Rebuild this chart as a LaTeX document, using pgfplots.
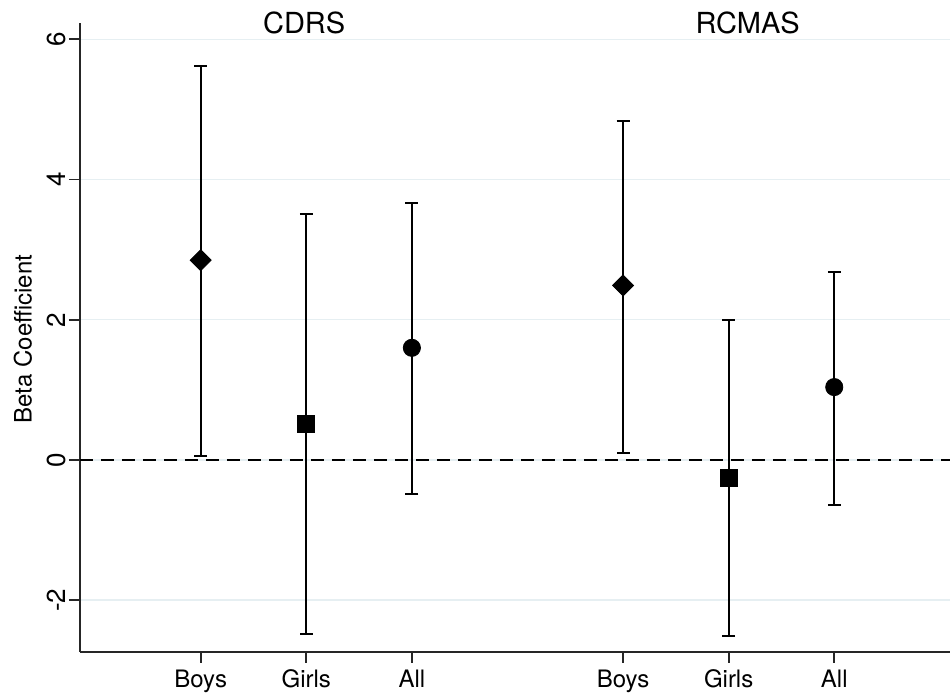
\documentclass[border=0pt]{standalone}
\usepackage{fontspec}
\setmainfont{TeX Gyre Heros}
\usepackage{pgfplots}
\pgfplotsset{compat=1.18}
\usepackage{pgfplotstable}
\definecolor{gridc}{HTML}{E6EFF2}

% x = position, y = coefficient, ep = upper CI - y, em = y - lower CI
\pgfplotstableread{
x y ep em
1 2.85 2.77 2.80
5 2.49 2.34 2.39
}\boys
\pgfplotstableread{
x y ep em
2 0.52 2.99 3.00
6 -0.25 2.25 2.26
}\girls
\pgfplotstableread{
x y ep em
3 1.60 2.07 2.09
7 1.04 1.64 1.68
}\all

\begin{document}
\begin{tikzpicture}
\begin{axis}[
  at={(0,0)}, anchor=south west,
  scale only axis, width=435pt, height=314.5pt,
  xmin=-0.143, xmax=8.096, ymin=-2.739, ymax=6.234,
  axis x line*=bottom, axis y line*=left,
  axis line style={-, line width=0.9pt, black!85},
  xtick={1,2,3,5,6,7}, xticklabels={Boys,Girls,All,Boys,Girls,All},
  ytick={-2,0,2,4,6},
  tick align=outside, major tick length=5.5pt,
  tick style={line width=0.9pt, black!85},
  ymajorgrids, grid style={gridc, line width=0.7pt},
  /pgf/number format/assume math mode=true,
  yticklabel style={rotate=90, anchor=south, inner sep=0pt, font=\fontsize{13}{15}\selectfont},
  yticklabel shift=1.5pt,
  xticklabel style={font=\fontsize{12}{14}\selectfont},
  clip=false,
  error bars/y dir=both,
  error bars/y explicit,
  error bars/error bar style={line width=1pt, black},
  error bars/error mark options={rotate=90, mark size=3.25pt, line width=1pt, black},
]
\addplot[black, sharp plot, dash pattern=on 6.5pt off 4pt, line width=1pt, forget plot] coordinates {(-0.143,0) (8.096,0)};

\addplot[only marks, mark=square*, mark size=3.7pt, mark options={rotate=45, fill=black, draw=black}]
  table[x=x, y=y, y error plus=ep, y error minus=em] {\boys};
\addplot[only marks, mark=square*, mark size=4.2pt, mark options={fill=black, draw=black}]
  table[x=x, y=y, y error plus=ep, y error minus=em] {\girls};
\addplot[only marks, mark=*, mark size=4.3pt, mark options={fill=black, draw=black}]
  table[x=x, y=y, y error plus=ep, y error minus=em] {\all};

\node[anchor=base, font=\fontsize{14.5}{16}\selectfont] at (axis cs:1.98,6.09) {CDRS};
\node[anchor=base, font=\fontsize{14.5}{16}\selectfont] at (axis cs:6.18,6.09) {RCMAS};
\end{axis}
\node[rotate=90, font=\fontsize{12}{14}\selectfont] at (-28.5pt,156.5pt) {Beta Coefficient};
\pgfresetboundingbox
\path[use as bounding box] (-40pt,-21pt) rectangle (435pt,326pt);
\end{tikzpicture}
\end{document}
